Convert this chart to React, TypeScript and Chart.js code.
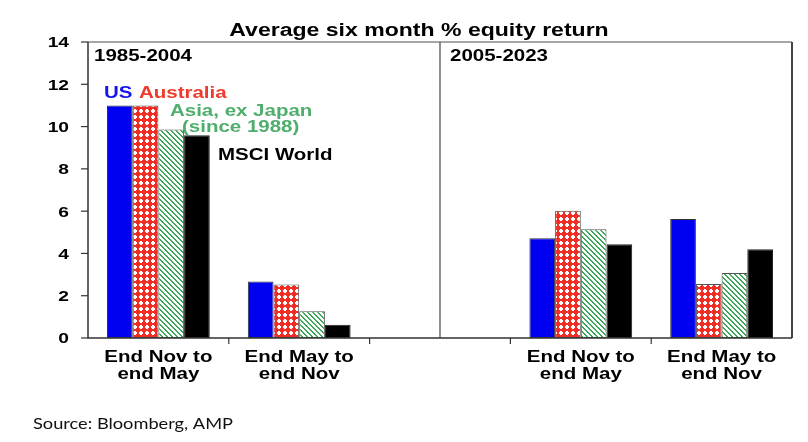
import React, { useEffect, useRef } from "react";
import { Chart, registerables } from "chart.js";

Chart.register(...registerables);

// ---- Data ----
const categories: string[][] = [
  ["End Nov to", "end May"],
  ["End May to", "end Nov"],
  ["", ""],
  ["End Nov to", "end May"],
  ["End May to", "end Nov"],
];
const usValues: (number | null)[] = [11.0, 2.67, null, 4.72, 5.63];
const australiaValues: (number | null)[] = [11.0, 2.53, null, 6.02, 2.55];
const asiaValues: (number | null)[] = [9.86, 1.26, null, 5.14, 3.07];
const msciValues: (number | null)[] = [9.59, 0.63, null, 4.44, 4.2];
const yTicks = [0, 2, 4, 6, 8, 10, 12, 14];
const periodLabels = ["1985-2004", "2005-2023"];
const seriesNames = ["US", "Australia", "Asia, ex Japan", "(since 1988)", "MSCI World"];
const chartTitle = "Average six month % equity return";
const sourceText = "Source: Bloomberg, AMP";

const BOLD = (size: number) => `bold ${size}px "Liberation Sans", Arial, sans-serif`;
const SX = 1.28;

function txt(
  ctx: CanvasRenderingContext2D,
  s: string,
  x: number,
  y: number,
  font: string,
  color: string,
  align: CanvasTextAlign,
  sx: number
) {
  ctx.save();
  ctx.font = font;
  ctx.fillStyle = color;
  ctx.textAlign = align;
  ctx.textBaseline = "alphabetic";
  ctx.translate(x, y);
  ctx.scale(sx, 1);
  ctx.fillText(s, 0, 0);
  ctx.restore();
}

function makeAusPattern(ctx: CanvasRenderingContext2D) {
  const c = document.createElement("canvas");
  c.width = 6;
  c.height = 6;
  const g = c.getContext("2d")!;
  g.fillStyle = "#ee2e24";
  g.fillRect(0, 0, 6, 6);
  g.fillStyle = "#ffffff";
  g.fillRect(1, 2, 4, 2);
  g.fillRect(2, 1, 2, 4);
  return ctx.createPattern(c, "repeat")!;
}

function makeAsiaPattern(ctx: CanvasRenderingContext2D) {
  const s = 5;
  const c = document.createElement("canvas");
  c.width = s;
  c.height = s;
  const g = c.getContext("2d")!;
  g.fillStyle = "#ffffff";
  g.fillRect(0, 0, s, s);
  g.fillStyle = "#3da85a";
  for (let x = 0; x < s; x++) {
    for (let y = 0; y < s; y++) {
      if ((((x - y) % s) + s) % s < 2) g.fillRect(x, y, 1, 1);
    }
  }
  return ctx.createPattern(c, "repeat")!;
}

const decorPlugin = {
  id: "decor",
  afterDraw(chart: any) {
    const ctx: CanvasRenderingContext2D = chart.ctx;
    const { left, right, top, bottom } = chart.chartArea;
    const xs = chart.scales.x;
    const ys = chart.scales.y;

    // frame
    ctx.save();
    ctx.lineCap = "butt";
    ctx.strokeStyle = "#8a8a8a";
    ctx.lineWidth = 1.5;
    ctx.beginPath();
    ctx.moveTo(left, top);
    ctx.lineTo(right, top);
    ctx.stroke();
    ctx.strokeStyle = "#444";
    ctx.lineWidth = 2;
    ctx.beginPath();
    ctx.moveTo(right, top);
    ctx.lineTo(right, bottom);
    ctx.stroke();
    ctx.strokeStyle = "#333";
    ctx.lineWidth = 1.5;
    ctx.beginPath();
    ctx.moveTo(left, top);
    ctx.lineTo(left, bottom);
    ctx.lineTo(right, bottom);
    ctx.stroke();

    // y ticks
    ctx.lineWidth = 1.2;
    for (const v of yTicks) {
      const y = ys.getPixelForValue(v);
      ctx.beginPath();
      ctx.moveTo(left - 7, y);
      ctx.lineTo(left, y);
      ctx.stroke();
    }
    // x ticks at category boundaries
    for (let i = 1; i < categories.length; i++) {
      const bx = (xs.getPixelForValue(i - 1) + xs.getPixelForValue(i)) / 2;
      ctx.beginPath();
      ctx.moveTo(bx, bottom);
      ctx.lineTo(bx, bottom + 6);
      ctx.stroke();
    }
    // divider between periods
    const dx = xs.getPixelForValue(2);
    ctx.strokeStyle = "#444";
    ctx.lineWidth = 1.2;
    ctx.beginPath();
    ctx.moveTo(dx, top);
    ctx.lineTo(dx, bottom);
    ctx.stroke();
    ctx.restore();

    // y labels
    for (const v of yTicks) {
      const y = ys.getPixelForValue(v);
      txt(ctx, String(v), left - 19, y + 5.4, BOLD(15), "#000", "right", SX);
    }
    // x labels
    categories.forEach((lines, i) => {
      const cx = xs.getPixelForValue(i);
      lines.forEach((l, j) => {
        if (l) txt(ctx, l, cx, bottom + 24 + j * 17, BOLD(16), "#000", "center", SX);
      });
    });

    // title
    txt(ctx, chartTitle, 419, 36, BOLD(18), "#000", "center", SX);
    // period labels
    txt(ctx, periodLabels[0], left + 6, 61, BOLD(16), "#000", "left", SX);
    txt(ctx, periodLabels[1], dx + 10, 61, BOLD(16), "#000", "left", SX);

    // series labels
    txt(ctx, seriesNames[0], left + 16, 97.5, BOLD(16), "#1414f0", "left", SX);
    txt(ctx, seriesNames[1], left + 51, 97.5, BOLD(16), "#ee3b2b", "left", SX);
    txt(ctx, seriesNames[2], left + 82, 116, BOLD(16), "#4fae6c", "left", SX);
    txt(ctx, seriesNames[3], left + 94, 132, BOLD(16), "#4fae6c", "left", SX);
    txt(ctx, seriesNames[4], left + 130, 159.5, BOLD(16), "#000", "left", SX);

    // source
    ctx.save();
    ctx.font = '15px Lato, "Open Sans", sans-serif';
    const w = ctx.measureText(sourceText).width;
    ctx.restore();
    txt(ctx, sourceText, 33, 429, '15px Lato, "Open Sans", sans-serif', "#111", "left", 200 / w);
  },
};

export default function App() {
  const ref = useRef<HTMLCanvasElement>(null);

  useEffect(() => {
    const canvas = ref.current!;
    const ctx = canvas.getContext("2d")!;
    const ausPattern = makeAusPattern(ctx);
    const asiaPattern = makeAsiaPattern(ctx);

    const chart = new Chart(ctx, {
      type: "bar",
      data: {
        labels: categories,
        datasets: [
          {
            label: "US",
            data: usValues,
            backgroundColor: "#0000f0",
            borderColor: "#333",
            borderWidth: 1,
          },
          {
            label: "Australia",
            data: australiaValues,
            backgroundColor: ausPattern,
            borderColor: "#555",
            borderWidth: 1,
          },
          {
            label: "Asia, ex Japan (since 1988)",
            data: asiaValues,
            backgroundColor: asiaPattern,
            borderColor: "#555",
            borderWidth: 1,
          },
          {
            label: "MSCI World",
            data: msciValues,
            backgroundColor: "#000000",
            borderColor: "#222",
            borderWidth: 1,
          },
        ] as any,
      },
      options: {
        responsive: false,
        animation: false,
        devicePixelRatio: 1,
        layout: { padding: { left: 88, right: 16, top: 42, bottom: 104 } },
        datasets: {
          bar: { categoryPercentage: 0.73, barPercentage: 1.0, borderSkipped: false },
        } as any,
        scales: {
          x: { display: false },
          y: { display: false, min: 0, max: 14 },
        },
        plugins: {
          legend: { display: false },
          tooltip: { enabled: false },
          title: { display: false },
        },
      },
      plugins: [decorPlugin],
    });
    return () => chart.destroy();
  }, []);

  return (
    <div style={{ position: "absolute", left: 0, top: 0, width: 808, height: 442, background: "#fff" }}>
      <canvas ref={ref} width={808} height={442} style={{ width: 808, height: 442, display: "block" }} />
    </div>
  );
}
